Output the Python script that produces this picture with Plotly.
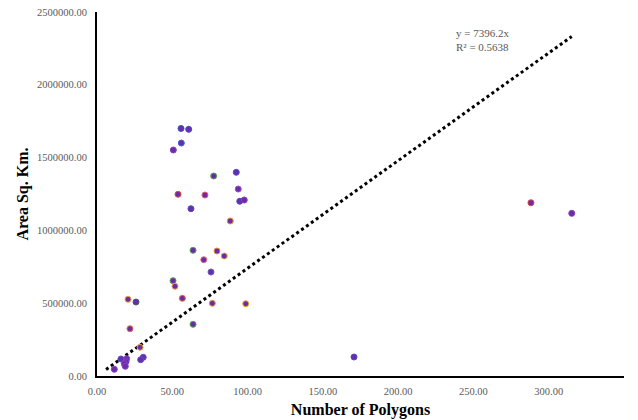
import plotly.graph_objects as go

# Data: number of polygons vs area (sq km)
polygons = [55.8, 60.9, 56.0, 50.7, 77.5, 92.5, 93.8, 53.8, 71.7, 94.8, 97.8, 62.4,
            88.5, 63.8, 79.7, 84.5, 70.9, 75.7, 50.5, 51.8, 56.7, 76.6, 98.8, 63.8,
            20.6, 25.9, 21.9, 28.6, 30.7, 29.0, 15.9, 19.7, 19.3, 18.1, 18.8, 11.5,
            170.7, 288.2, 315.3]
area = [1700000, 1694000, 1600000, 1552000, 1373600, 1399000, 1284000, 1248000, 1243000,
        1200000, 1208800, 1149000, 1064600, 863300, 858500, 824200, 798700, 714300,
        654500, 616000, 533600, 499300, 496500, 355000, 526800, 508200, 324900, 197100,
        128400, 112000, 116800, 118800, 98200, 84500, 66600, 46000, 130500, 1190000, 1117000]
edge_colors = ["#3b4fc4", "#3b4fc4", "#3f63d8", "#8a3fc0", "#5aa050", "#4a4fc8", "#9a50d0",
               "#e0503a", "#e06070", "#4a4fc8", "#8a3fc0", "#4a4fc8", "#e89030", "#5aa050",
               "#e89030", "#f0a030", "#e87070", "#6a5fc8", "#5aa050", "#f0a030", "#e87040",
               "#f0a030", "#f0a030", "#5aa050", "#f0a030", "#4a5a70", "#e87040", "#f0a030",
               "#5a4fd0", "#5a4fd0", "#5a4fd0", "#8a3fc0", "#6a4fd0", "#8a3fc0", "#8a3fc0",
               "#8a3fc0", "#4a4fc8", "#e04040", "#8a3fc0"]
fill_color = "#6a2da8"

slope = 7396.2
r2 = 0.5638
trend_x = [6.0, 315.3]
trend_y = [slope * v for v in trend_x]

x_ticks = [0, 50, 100, 150, 200, 250, 300, 350]
y_ticks = [0, 500000, 1000000, 1500000, 2000000, 2500000]

serif = "Liberation Serif, Times New Roman, serif"

fig = go.Figure()
fig.add_trace(go.Scatter(
    x=trend_x, y=trend_y, mode="lines",
    line=dict(color="black", width=3, dash="3px,3px"),
    showlegend=False, hoverinfo="skip"))
fig.add_trace(go.Scatter(
    x=polygons, y=area, mode="markers",
    marker=dict(size=6, color=fill_color, line=dict(color=edge_colors, width=1)),
    showlegend=False))

fig.add_annotation(
    x=0.677, y=0.963, xref="paper", yref="paper", xanchor="left", yanchor="top",
    text=f"y = {slope}x<br>R² = {r2}", showarrow=False, align="left",
    font=dict(family=serif, size=11, color="#595959"))

fig.update_layout(
    width=638, height=420,
    margin=dict(l=97, r=14, t=12, b=44),
    paper_bgcolor="white", plot_bgcolor="white",
    font=dict(family=serif),
    xaxis=dict(range=[0, 350], tickvals=x_ticks, tickformat=".2f", automargin=False,
               showgrid=False, zeroline=False, showline=True, linecolor="black",
               linewidth=2, ticks="", ticklabelstandoff=4,
               tickfont=dict(size=10.5, color="#595959"),
               title=dict(text="<b>Number of Polygons</b>", standoff=8,
                          font=dict(size=16, color="black", family=serif))),
    yaxis=dict(range=[0, 2500000], tickvals=y_ticks, tickformat=".2f", automargin=False,
               showgrid=False, zeroline=False, showline=True, linecolor="black",
               linewidth=2, ticks="", ticklabelstandoff=6,
               tickfont=dict(size=10.5, color="#595959"),
               title=dict(text="<b>Area Sq. Km.</b>", standoff=4,
                          font=dict(size=16, color="black", family=serif))),
)

fig.write_html("out.html", config={"displayModeBar": False},
               post_script="document.body.style.margin='0';")
